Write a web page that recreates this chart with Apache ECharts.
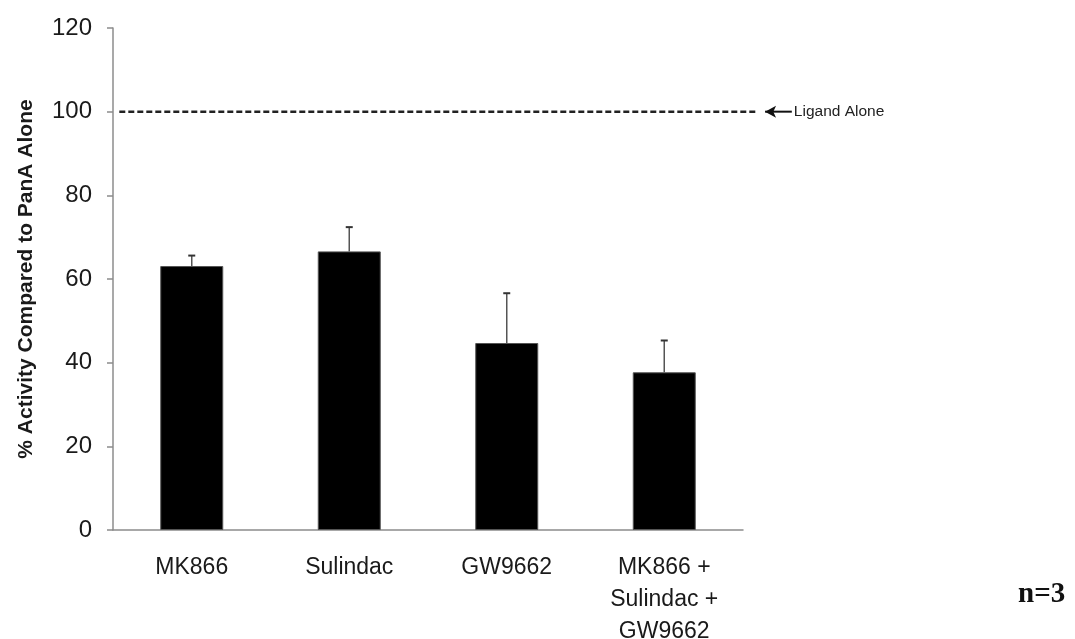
<!DOCTYPE html>
<html lang="en">
<head>
    <meta charset="UTF-8">
    <title>PanA activity</title>
    <script type="text/javascript" src="https://cdn.jsdelivr.net/npm/echarts@6/dist/echarts.min.js"></script>
    <style>
        html, body { margin: 0; padding: 0; background: #fff; }
    </style>
</head>
<body>
    <div id="container" style="width:1075px;height:639px"></div>

    <script type="text/javascript">
        var categories = ['MK866', 'Sulindac', 'GW9662', 'MK866 +\nSulindac +\nGW9662'];
        var means = [63.1, 66.6, 44.7, 37.7];
        var errors = [2.5, 5.8, 11.9, 7.6];
        var yTicks = [0, 20, 40, 60, 80, 100, 120];
        // "Ligand Alone" reference on an overlay axis where 1 unit = 1 category width
        var ligandLine = [[0.04, 100], [4.09, 100]];
        var ligandArrow = [[4.14, 100], [4.31, 100]];

        var dom = document.getElementById("container");
        var myChart = echarts.init(dom);

        var errData = [];
        for (var i = 0; i < categories.length; i++) {
            errData.push([i, means[i], means[i] + errors[i]]);
        }

        var option = {
            animation: false,
            grid: [
                { left: 113, right: 332, top: 28, bottom: 109, outerBoundsMode: 'none', containLabel: false },
                // overlay grid reaching the right edge, for the reference line + arrow
                { left: 113, right: 0, top: 28, bottom: 109, outerBoundsMode: 'none', containLabel: false }
            ],
            xAxis: [{
                type: 'category',
                gridIndex: 0,
                data: categories,
                axisLine: { lineStyle: { color: '#8c8c8c', width: 1.5 } },
                axisTick: { length: 6, lineStyle: { color: '#8c8c8c', width: 1.5 } },
                axisLabel: {
                    fontFamily: 'Liberation Sans', fontSize: 23, color: '#1a1a1a',
                    margin: 22, lineHeight: 32, interval: 0
                }
            }, {
                type: 'value', gridIndex: 1, min: 0, max: 962 / 157.5, show: false
            }],
            yAxis: [{
                type: 'value',
                gridIndex: 0,
                min: 0, max: 120, interval: 20,
                name: '% Activity Compared to PanA Alone',
                nameLocation: 'middle',
                nameGap: 76,
                nameTextStyle: { fontFamily: 'Liberation Sans', fontSize: 21, fontWeight: 'bold', color: '#1a1a1a' },
                axisLine: { show: true, lineStyle: { color: '#8c8c8c', width: 1.5 } },
                axisTick: { show: true, length: 6, lineStyle: { color: '#8c8c8c', width: 1.5 } },
                splitLine: { show: false },
                axisLabel: {
                    fontFamily: 'Liberation Sans', fontSize: 24, color: '#1a1a1a', margin: 21,
                    formatter: function (v) { return yTicks.indexOf(v) >= 0 ? String(v) : ''; }
                }
            }, {
                type: 'value', gridIndex: 1, min: 0, max: 120, show: false
            }],
            series: [{
                type: 'bar',
                data: means,
                barWidth: 63,
                itemStyle: { color: '#000', borderColor: '#555', borderWidth: 1 }
            }, {
                type: 'custom',
                data: errData,
                z: 3,
                renderItem: function (params, api) {
                    var x = api.value(0);
                    var lo = api.coord([x, api.value(1)]);
                    var hi = api.coord([x, api.value(2)]);
                    return {
                        type: 'group',
                        children: [{
                            type: 'line',
                            shape: { x1: lo[0], y1: lo[1], x2: hi[0], y2: hi[1] },
                            style: { stroke: '#555', lineWidth: 1.5 }
                        }, {
                            type: 'line',
                            shape: { x1: hi[0] - 3.5, y1: hi[1], x2: hi[0] + 3.5, y2: hi[1] },
                            style: { stroke: '#333', lineWidth: 2 }
                        }]
                    };
                }
            }, {
                type: 'line',
                xAxisIndex: 1,
                yAxisIndex: 1,
                data: ligandLine,
                symbol: 'none',
                lineStyle: { color: '#222', width: 2.5, type: [6, 3] }
            }, {
                type: 'line',
                xAxisIndex: 1,
                yAxisIndex: 1,
                lineStyle: { color: '#111', width: 2 },
                endLabel: {
                    show: true, distance: 2,
                    formatter: 'Ligand Alone',
                    fontFamily: 'Liberation Sans', fontSize: 15.5, color: '#222'
                },
                data: [{
                    value: ligandArrow[0],
                    symbol: 'arrow',
                    symbolSize: [9, 11],
                    symbolRotate: 90,
                    itemStyle: { color: '#111' }
                }, {
                    value: ligandArrow[1],
                    symbol: 'none'
                }]
            }],
            graphic: [{
                type: 'text',
                left: 1018, top: 580,
                style: { text: 'n=3', fontFamily: 'Liberation Serif', fontSize: 29, fontWeight: 'bold', fill: '#111' }
            }]
        };

        myChart.setOption(option, true);
    </script>
</body>
</html>
